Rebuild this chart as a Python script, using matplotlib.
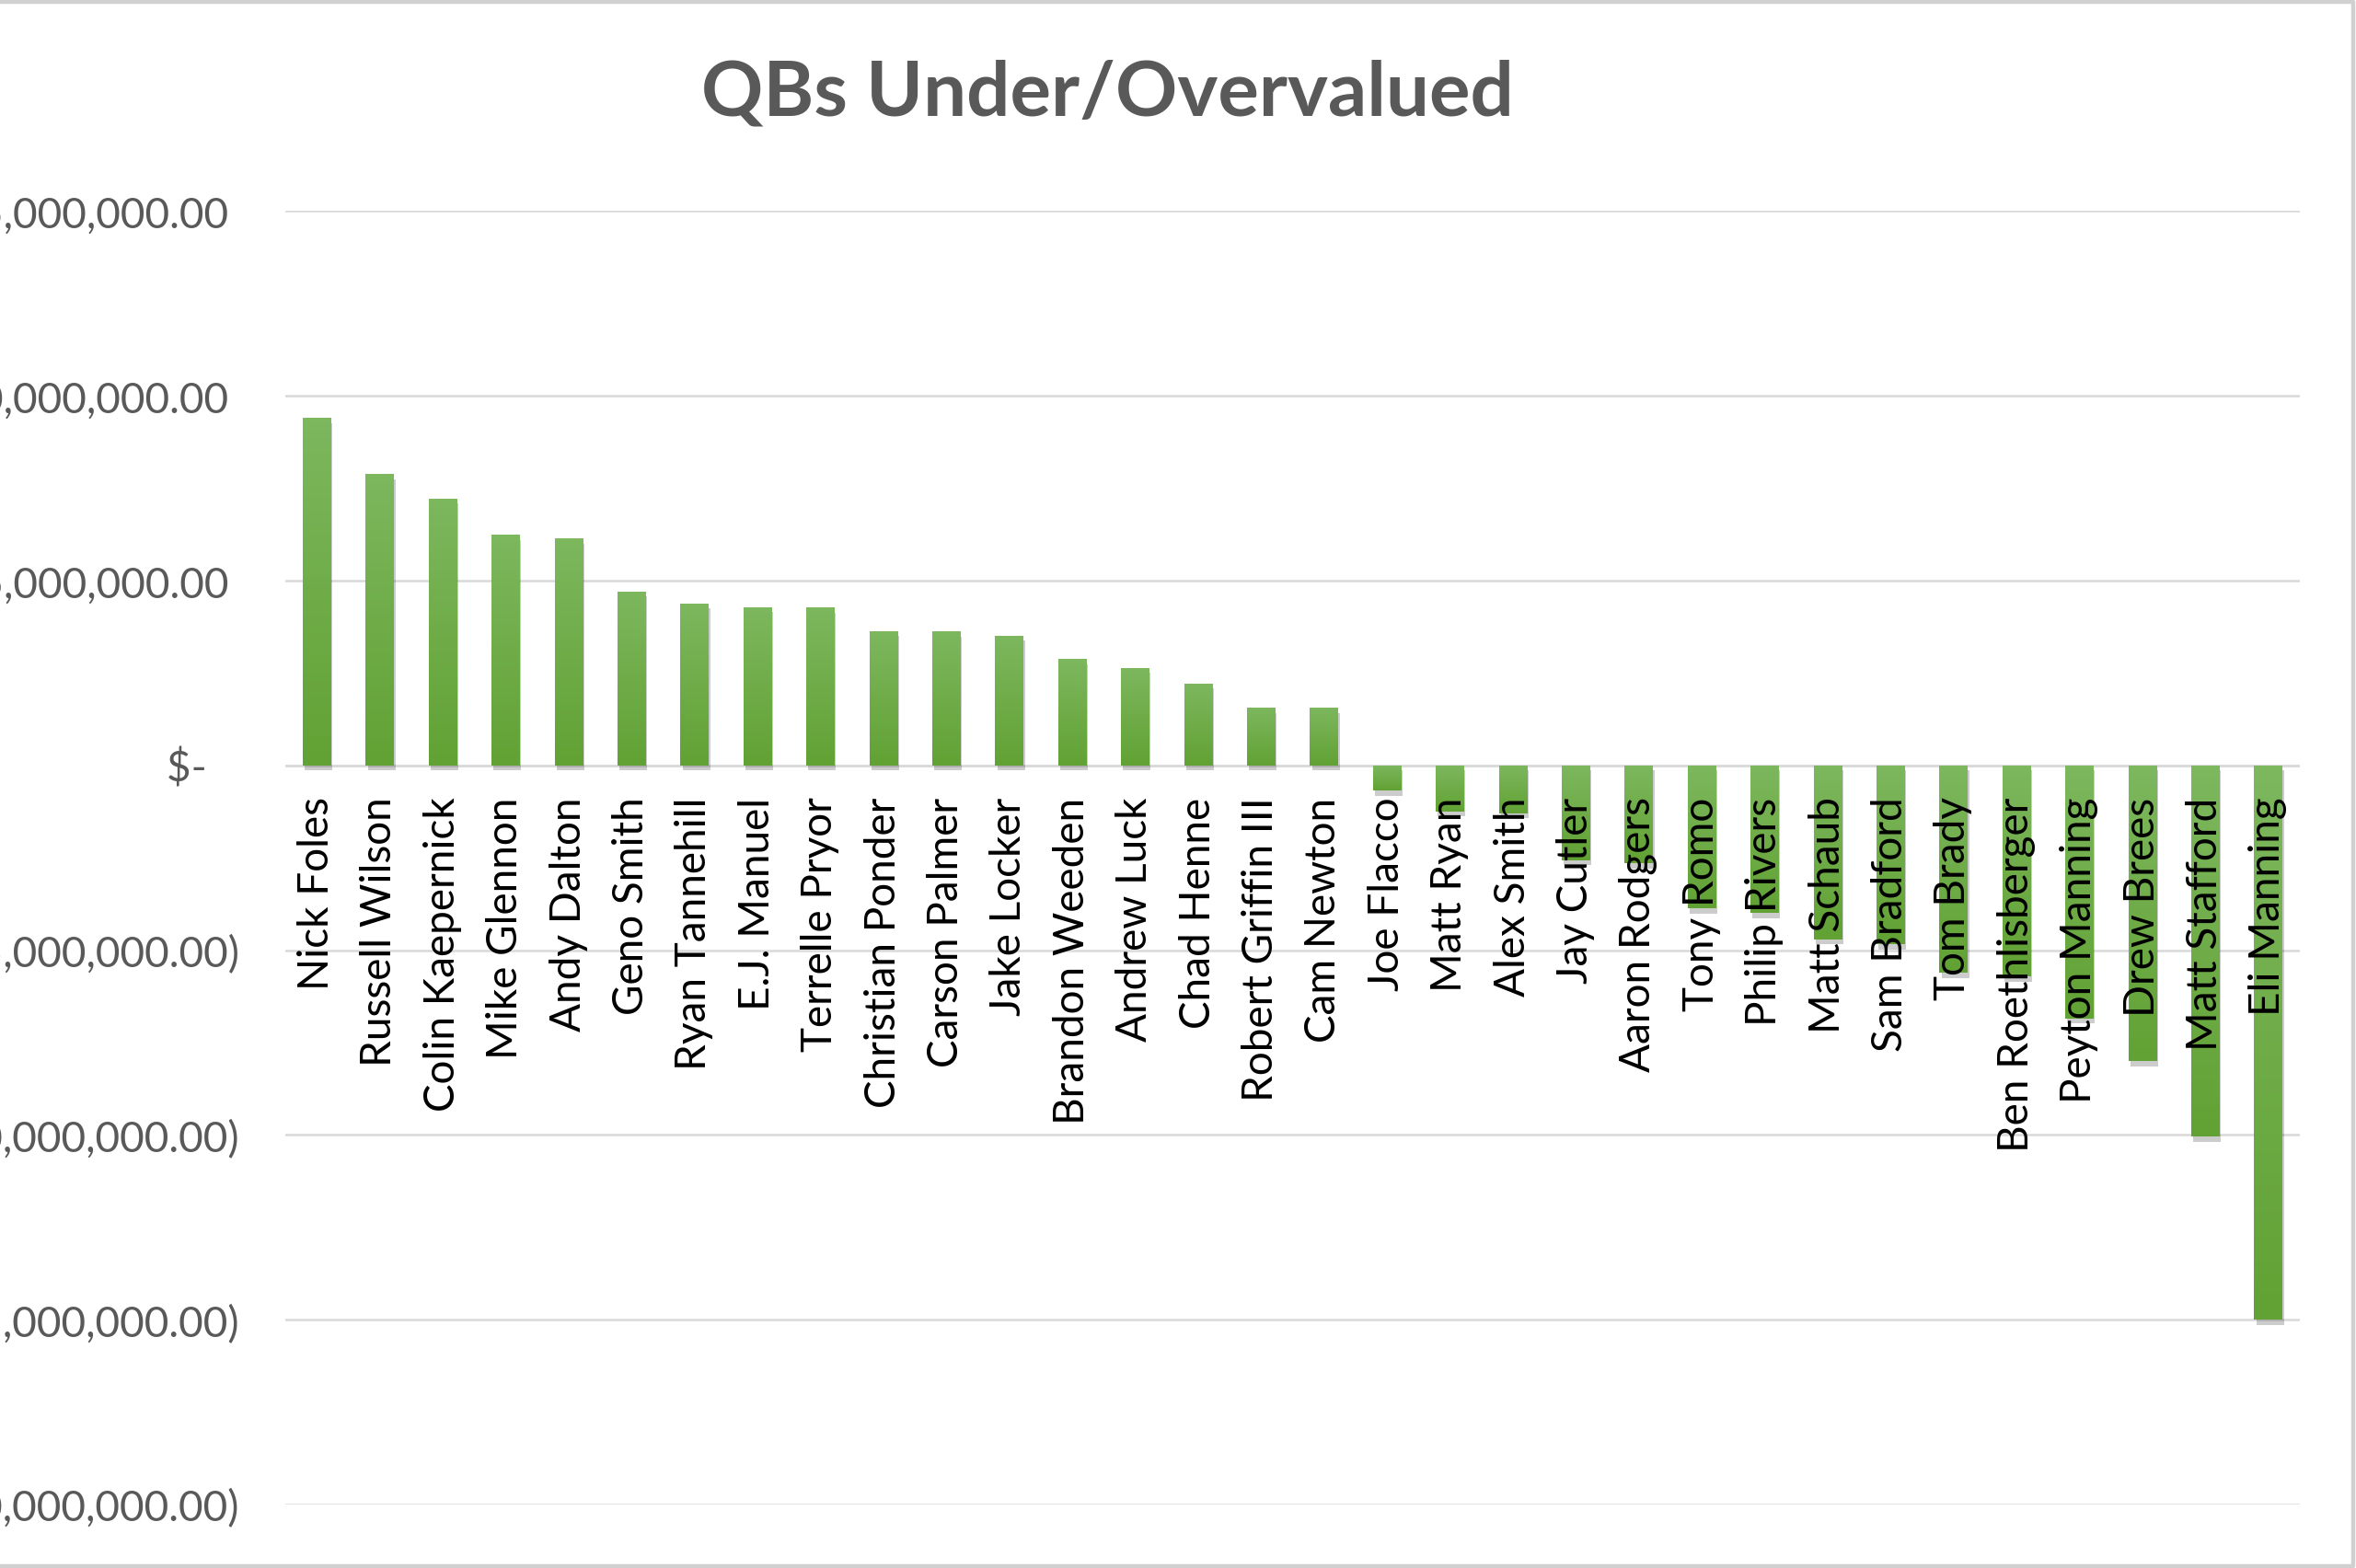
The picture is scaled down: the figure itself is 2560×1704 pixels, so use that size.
import numpy as np
import matplotlib
matplotlib.use("Agg")
import matplotlib.pyplot as plt
import matplotlib.patheffects as pe
from matplotlib.colors import LinearSegmentedColormap
from matplotlib.ticker import FuncFormatter, MultipleLocator

plt.rcParams['font.family'] = ['Lato', 'DejaVu Sans']

# quarterbacks, sorted from most undervalued to most overvalued
players = ["Nick Foles", "Russell Wilson", "Colin Kaepernick", "Mike Glennon",
           "Andy Dalton", "Geno Smith", "Ryan Tannehill", "E.J. Manuel",
           "Terrelle Pryor", "Christian Ponder", "Carson Palmer", "Jake Locker",
           "Brandon Weeden", "Andrew Luck", "Chad Henne", "Robert Griffin III",
           "Cam Newton", "Joe Flacco", "Matt Ryan", "Alex Smith", "Jay Cutler",
           "Aaron Rodgers", "Tony Romo", "Philip Rivers", "Matt Schaub",
           "Sam Bradford", "Tom Brady", "Ben Roethlisberger", "Peyton Manning",
           "Drew Brees", "Matt Stafford", "Eli Manning"]

# value difference in dollars
value_diff = [9400000, 7880000, 7220000, 6240000,
              6130000, 4700000, 4380000, 4280000,
              4270000, 3630000, 3620000, 3510000,
              2870000, 2640000, 2210000, 1560000,
              1550000, -690000, -1250000, -1300000, -2570000,
              -2650000, -3870000, -4000000, -4710000,
              -4850000, -5620000, -5720000, -6850000,
              -8010000, -10050000, -15000000]

y_min, y_max, y_step = -20000000, 15000000, 5000000


def acct_fmt(v, pos=None):
    # Excel accounting style labels
    if abs(v) < 1:
        return "$-   "
    if v < 0:
        return "$ ({:,.2f})".format(-v)
    return "$ {:,.2f} ".format(v)


fig = plt.figure(figsize=(12.8, 8.52), dpi=200)
ax = fig.add_axes([0.121, 0.0405, 0.855, 0.825])

x = np.arange(len(players))
bars = ax.bar(x, value_diff, width=0.44, color="#6aab40", zorder=3,
              path_effects=[pe.SimplePatchShadow(offset=(0.8, -2.0), shadow_rgbFace="#000000", alpha=0.2),
                            pe.Normal()])

# light-to-dark green gradient on each bar
grad_cmap = LinearSegmentedColormap.from_list("g", ["#7db75e", "#62a234"])
grad = np.linspace(0, 1, 64).reshape(-1, 1)
for b in bars:
    x0, w = b.get_x(), b.get_width()
    y0, h = b.get_y(), b.get_height()
    lo, hi = min(y0, y0 + h), max(y0, y0 + h)
    im = ax.imshow(grad, extent=[x0, x0 + w, lo, hi], cmap=grad_cmap,
                   aspect="auto", origin="upper", zorder=3.5, interpolation="bilinear")
    im.set_clip_path(b)

ax.set_xlim(-0.5, len(players) - 0.5)
ax.set_ylim(y_min, y_max)
ax.yaxis.set_major_locator(MultipleLocator(y_step))
ax.yaxis.set_major_formatter(FuncFormatter(acct_fmt))
ax.grid(axis="y", color="#d9d9d9", linewidth=0.9, zorder=0)
ax.set_axisbelow(True)

for s in ["top", "right", "left", "bottom"]:
    ax.spines[s].set_visible(False)
ax.axhline(0, color="#d9d9d9", linewidth=0.9, zorder=1)

# category names hang from the zero line, on top of the bars
ax.set_xticks([])
for i, name in enumerate(players):
    ax.annotate(name, xy=(x[i], 0), xytext=(0, -12.5), textcoords="offset points",
                rotation=90, ha="center", va="top", fontsize=16.5,
                color="black", zorder=6)

ax.tick_params(axis="y", length=0, pad=18, labelsize=16.5, labelcolor="#595959")

fig.text(0.47, 0.94, "QBs Under/Overvalued", ha="center", va="center",
         fontsize=30, fontweight="bold", color="#595959")

# chart area border (left edge is cropped in the original)
border = plt.Line2D([0, 0.9988, 0.9988, 0], [0.9988, 0.9988, 0.0012, 0.0012],
                    transform=fig.transFigure, color="#d0d0d0", linewidth=1.6)
fig.add_artist(border)

fig.savefig("out.png", dpi=200)
